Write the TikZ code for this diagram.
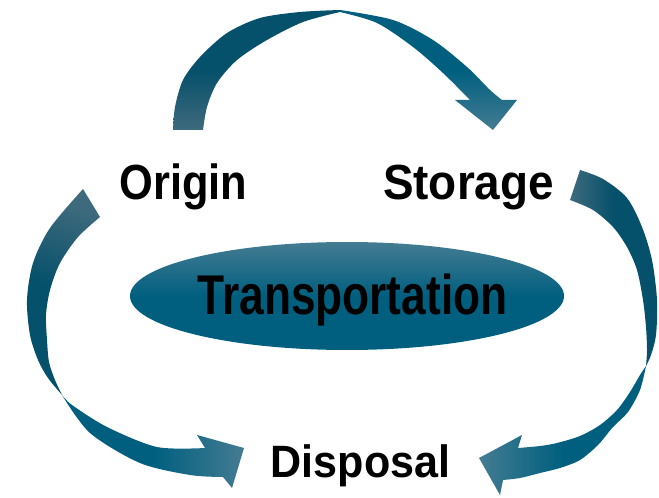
\documentclass[tikz,border=0pt]{standalone}
\usepackage{fontspec}
\setmainfont{Liberation Sans}
\definecolor{tealA}{HTML}{005F7F}
\definecolor{tealD}{HTML}{05506A}
\definecolor{tealL}{HTML}{447C92}
\definecolor{tealG}{HTML}{3E6A7D}
\tikzset{
  lbl/.style={inner sep=0pt, anchor=base, text=black},
}
\begin{document}
\begin{tikzpicture}[x=0.75pt,y=-0.75pt]
\useasboundingbox (0,0) rectangle (659,498);

% ---------- top arrow (Origin -> Storage) ----------
\shade[shading=axis, top color=tealD, bottom color=tealG, middle color=tealD]
  plot[smooth] coordinates {(173,130) (175,107) (183,80) (200,57) (227,33) (260,18) (300,12) (340,10)}
  -- plot[smooth] coordinates {(340,12) (303,22) (267,40) (237,60) (217,83) (207,107) (203,130)}
  -- cycle;
\shade[shading=axis, top color=tealA, bottom color=tealL, middle color=tealA]
  plot[smooth] coordinates {(340,10) (393,20) (433,40) (467,67) (490,90) (502,100)}
  -- (517,100) -- (493,130) -- (455,100) -- (470,100)
  -- plot[smooth] coordinates {(470,100) (443,73) (413,47) (377,23) (340,12)}
  -- cycle;

% ---------- left arrow (Origin -> Disposal) ----------
\shade[shading=axis, top color=tealG, bottom color=tealD, middle color=tealD, shading angle=-20]
  plot[smooth] coordinates {(83,189) (50,228) (33,263) (27,300) (30,335) (38,360) (48,378) (62,395)}
  -- plot[smooth] coordinates {(62,395) (55,380) (49,362) (47,340) (46,315) (50,290) (60,263) (78,237) (100,217)}
  -- cycle;
\shade[shading=axis, left color=tealA, right color=tealL, middle color=tealA]
  plot[smooth] coordinates {(62,395) (90,433) (140,463) (190,475) (223,477)}
  -- (232,488) -- (244,448) -- (197,435) -- (205,448)
  -- plot[smooth] coordinates {(205,448) (157,447) (107,427) (72,405) (62,395)}
  -- cycle;

% ---------- right arrow (Storage -> Disposal) ----------
\shade[shading=axis, left color=tealG, right color=tealD, middle color=tealD]
  plot[smooth] coordinates {(580,170) (603,179) (627,198) (642,227) (652,260) (657,300) (656,335) (651,355) (646,366)}
  -- plot[smooth] coordinates {(646,366) (647,350) (646,327) (643,300) (637,270) (627,247) (613,227) (593,210) (570,200)}
  -- cycle;
\shade[shading=axis, left color=tealL, right color=tealA, middle color=tealA]
  plot[smooth] coordinates {(646,366) (640,390) (628,412) (613,427) (598,445) (580,460) (560,468) (540,473) (520,478) (503,480)}
  -- (500,495) -- (479,458) -- (522,435) -- (518,448)
  -- plot[smooth] coordinates {(518,448) (540,446) (557,443) (580,436) (600,425) (617,410) (630,392) (640,375) (646,366)}
  -- cycle;

% ---------- central ellipse ----------
\shade[shading=axis, top color=tealL, bottom color=tealA, middle color=tealA]
  (347,296) ellipse [x radius=217, y radius=54];
\node[lbl] (transp) at (352.5,315)
  {\fontsize{42}{46}\selectfont\bfseries\scalebox{0.79}[1]{Transportation}};

% ---------- labels ----------
\node[lbl] (origin) at (183.5,200)
  {\fontsize{37}{41}\selectfont\bfseries\scalebox{0.88}[1]{Origin}};
\node[lbl] (storage) at (468.5,200)
  {\fontsize{37}{41}\selectfont\bfseries\scalebox{0.93}[1]{Storage}};
\node[lbl] (disposal) at (360.5,477)
  {\fontsize{34}{38}\selectfont\bfseries\scalebox{0.95}[1]{Disposal}};
\end{tikzpicture}
\end{document}
